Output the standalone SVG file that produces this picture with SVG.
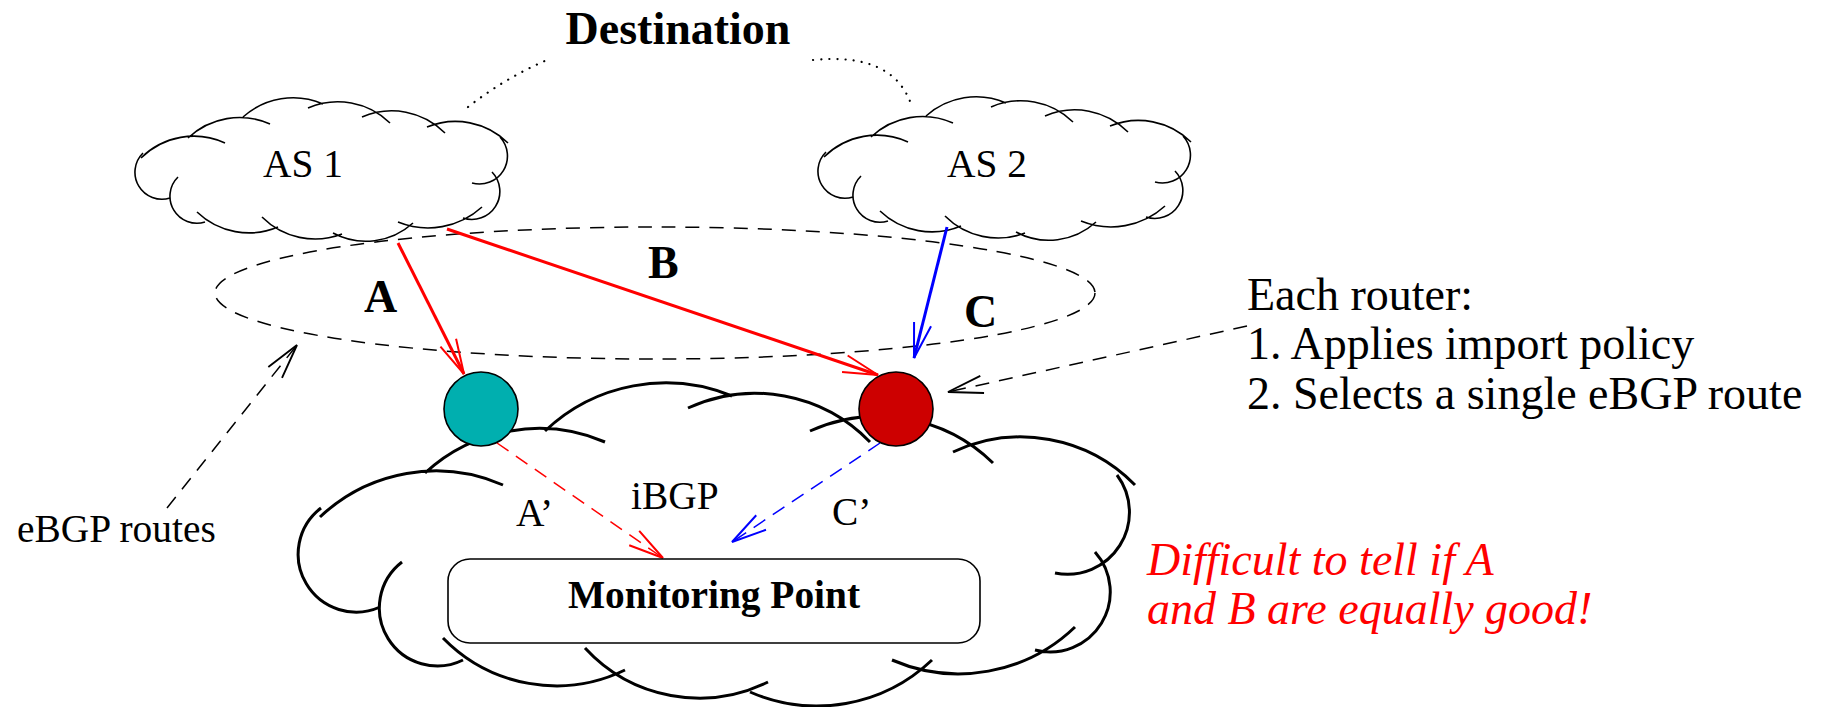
<svg xmlns="http://www.w3.org/2000/svg" xmlns:xlink="http://www.w3.org/1999/xlink" width="1830" height="707" viewBox="0 0 1830 707">
  <style>
    text { font-family: "Liberation Serif", "Times New Roman", serif; fill: #000; }
    .t12 { font-size: 39.4px; }
    .t14 { font-size: 46px; }
    .b { font-weight: bold; }
    .mid { text-anchor: middle; }
    .note { fill: #ff0000; font-style: italic; font-size: 46px; }
    .cloud-s { fill: none; stroke: #000; stroke-width: 1.6; stroke-linecap: butt; }
    .cloud-l { fill: none; stroke: #000; stroke-width: 3; stroke-linecap: butt; }
    .solid-red { stroke: #ff0000; stroke-width: 3; fill: none; }
    .solid-blue { stroke: #0000ff; stroke-width: 3; fill: none; }
    .dash-red { stroke: #ff0000; stroke-width: 1.5; stroke-dasharray: 14 9; fill: none; }
    .dash-blue { stroke: #0000ff; stroke-width: 1.5; stroke-dasharray: 14 9; fill: none; }
    .dash-black { stroke: #000; stroke-width: 1.5; stroke-dasharray: 14 10; fill: none; }
    .dotted { stroke: #000; stroke-width: 2.2; stroke-dasharray: 0.1 8; stroke-linecap: round; fill: none; }
    .router { stroke: #000; stroke-width: 1.6; }
  </style>
  <defs>
    <!-- open two-barb arrowheads -->
    <marker id="head-red" markerUnits="userSpaceOnUse" orient="auto" refX="0" refY="0" markerWidth="40" markerHeight="40" viewBox="-30 -10 32 20" overflow="visible">
      <path d="M-28,-7 L0,0 L-28,7" fill="none" stroke="#ff0000" stroke-width="1.6"/>
    </marker>
    <marker id="head-blue" markerUnits="userSpaceOnUse" orient="auto" refX="0" refY="0" markerWidth="40" markerHeight="40" viewBox="-30 -10 32 20" overflow="visible">
      <path d="M-28,-7 L0,0 L-28,7" fill="none" stroke="#0000ff" stroke-width="1.6"/>
    </marker>
    <marker id="head-black" markerUnits="userSpaceOnUse" orient="auto" refX="0" refY="0" markerWidth="40" markerHeight="40" viewBox="-30 -10 32 20" overflow="visible">
      <path d="M-28,-7 L0,0 L-28,7" fill="none" stroke="#000" stroke-width="1.5"/>
    </marker>
    <!-- small AS cloud outline: overlapping open arcs -->
    <path id="as-cloud" class="cloud-s" d="
      M170,198 A27,27 0 0 1 143,153
      M141,158 A75,75 0 0 1 225,143
      M188,138 A75,75 0 0 1 270,124
      M243,117 A75,75 0 0 1 323,104
      M308,108 A75,75 0 0 1 390,123
      M362,117 A75,75 0 0 1 445,133
      M427,127 A75,75 0 0 1 508,143
      M500,137 A28,28 0 0 1 472,183
      M492,172 A28,28 0 0 1 463,218
      M482,207 A80,80 0 0 1 398,222
      M413,223 A70,70 0 0 1 333,233
      M342,234 A75,75 0 0 1 262,217
      M278,227 A75,75 0 0 1 197,212
      M205,222 A27,27 0 0 1 178,177"/>
  </defs>

  <!-- title -->
  <text class="t14 b mid" x="678" y="44">Destination</text>

  <!-- AS 1 -->
  <g id="as1">
    <use xlink:href="#as-cloud" href="#as-cloud"/>
    <text class="t12 mid" x="303" y="177">AS 1</text>
  </g>

  <!-- AS 2 -->
  <g id="as2">
    <use xlink:href="#as-cloud" href="#as-cloud" transform="translate(683,-1)"/>
    <text class="t12 mid" x="987" y="177">AS 2</text>
  </g>

  <!-- local AS cloud -->
  <g id="local-as">
    <path class="cloud-l" d="
      M320,517 A168,168 0 0 1 503,485
      M425,473 A168,168 0 0 1 605,442
      M545,431 A175,175 0 0 1 732,396
      M688,408 A160,160 0 0 1 870,442
      M810,431 A165,165 0 0 1 993,463
      M953,452 A160,160 0 0 1 1135,485
      M1117,475 A62,62 0 0 1 1055,573
      M1095,552 A60,60 0 0 1 1035,650
      M1075,627 A168,168 0 0 1 892,660
      M932,660 A167,167 0 0 1 750,692
      M768,682 A155,155 0 0 1 585,648
      M625,670 A158,158 0 0 1 443,638
      M463,660 A58,58 0 0 1 402,562
      M380,607 A58,58 0 0 1 321,508"/>
  </g>

  <!-- eBGP session boundary -->
  <g id="ebgp-boundary">
    <ellipse class="dash-black" cx="655" cy="293" rx="440" ry="66" stroke-width="1.6" stroke-dasharray="15 10"/>
  </g>

  <!-- connectors -->
  <g id="connectors">
    <path class="dotted" d="M468,107 Q505,78 547,60"/>
    <path class="dotted" d="M813,60 Q895,52 912,107"/>
    <line class="solid-red" x1="398" y1="243" x2="464" y2="374" marker-end="url(#head-red)"/>
    <line class="solid-red" x1="447" y1="229" x2="878" y2="375" marker-end="url(#head-red)"/>
    <line class="solid-blue" x1="947" y1="227" x2="914" y2="358" marker-end="url(#head-blue)"/>
    <line class="dash-red" x1="497" y1="443" x2="663" y2="558" marker-end="url(#head-red)"/>
    <line class="dash-blue" x1="880" y1="443" x2="732" y2="542" marker-end="url(#head-blue)"/>
    <line class="dash-black" x1="167" y1="508" x2="297" y2="345" marker-end="url(#head-black)"/>
    <line class="dash-black" x1="1247" y1="326" x2="948" y2="392" marker-end="url(#head-black)"/>
  </g>

  <!-- border routers -->
  <g id="router-a">
    <circle class="router" cx="481" cy="409" r="37" fill="#00afaf"/>
  </g>
  <g id="router-bc">
    <circle class="router" cx="896" cy="409" r="37" fill="#cd0000"/>
  </g>

  <!-- monitoring point -->
  <g id="monitoring-point">
    <rect x="448" y="559" width="532" height="84" rx="22" ry="22" fill="#fff" stroke="#000" stroke-width="1.6"/>
    <text class="t12 b mid" x="714" y="608">Monitoring Point</text>
  </g>

  <!-- route labels -->
  <text class="t14 b" x="364" y="312">A</text>
  <text class="t14 b" x="648" y="278">B</text>
  <text class="t14 b" x="964" y="327">C</text>
  <text class="t12" x="516" y="526">A’</text>
  <text class="t12" x="631" y="509">iBGP</text>
  <text class="t12" x="832" y="525">C’</text>

  <!-- annotations -->
  <text class="t12" x="17" y="542">eBGP routes</text>
  <text class="t14" x="1247" y="310">Each router:</text>
  <text class="t14" x="1247" y="359">1. Applies import policy</text>
  <text class="t14" x="1247" y="409">2. Selects a single eBGP route</text>
  <text class="note" x="1147" y="575">Difficult to tell if A</text>
  <text class="note" x="1147" y="624">and B are equally good!</text>
</svg>
